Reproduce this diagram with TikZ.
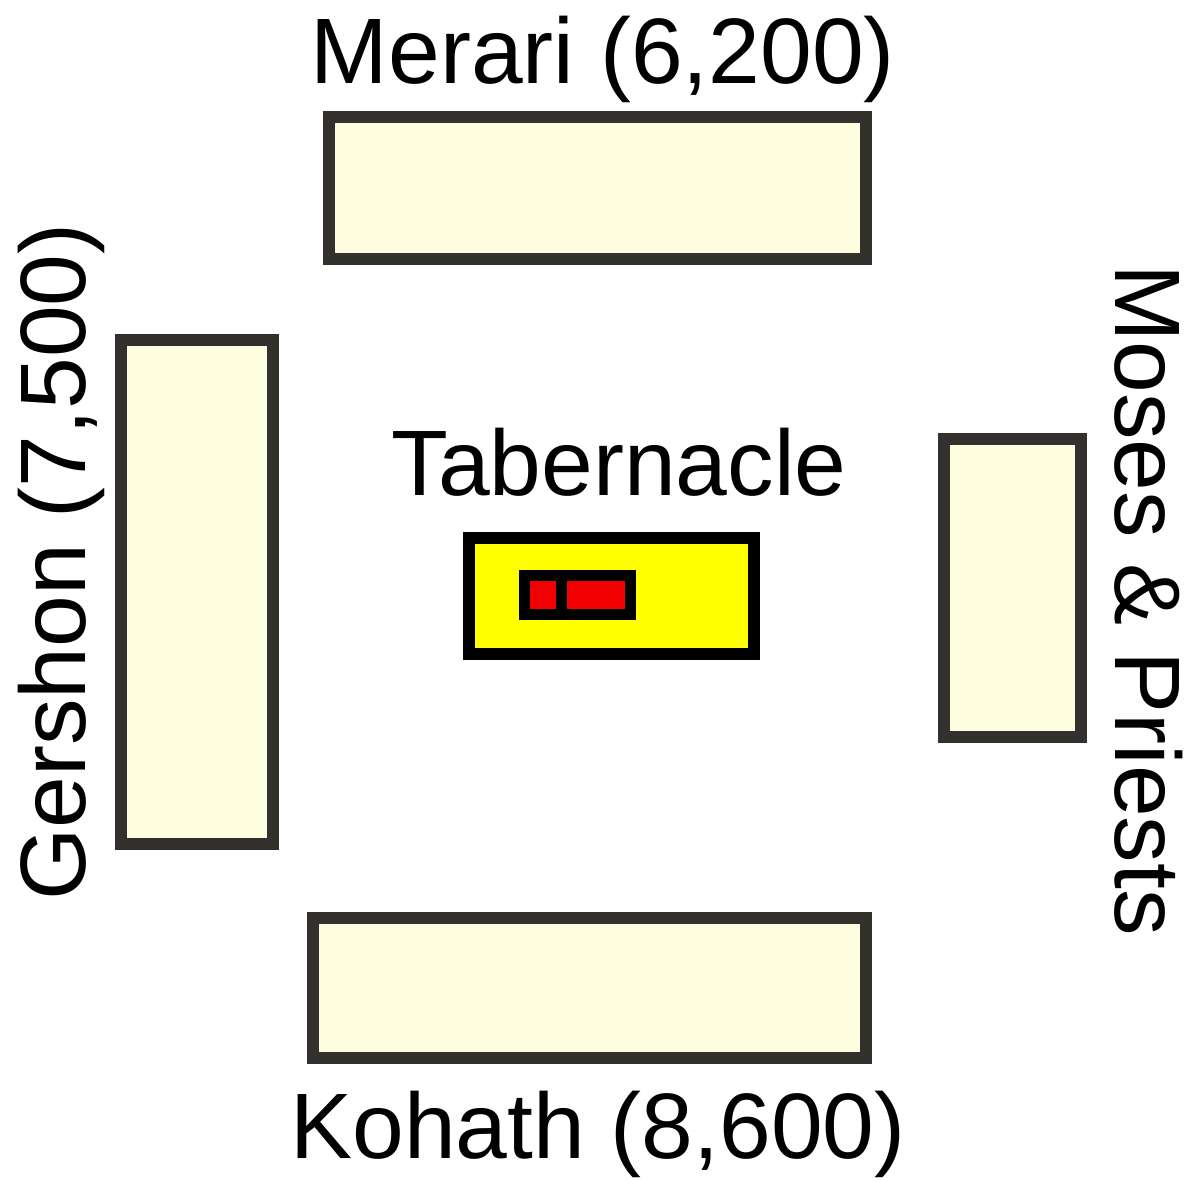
\documentclass[tikz,border=0pt]{standalone}
\usepackage{fontspec}
\setmainfont{Liberation Sans}
\definecolor{campfill}{RGB}{255,253,224}
\definecolor{campline}{RGB}{50,49,45}
\definecolor{tabyellow}{RGB}{255,255,0}
\definecolor{holyred}{RGB}{240,0,0}
\tikzset{
 camp/.style={draw=campline, fill=campfill, line width=12pt, inner sep=0pt},
 tabbox/.style={draw=black, fill=tabyellow, line width=12pt, inner sep=0pt},
 holy/.style={draw=black, fill=holyred, line width=11pt, inner sep=0pt, minimum height=39pt},
 tribe/.style={font=\fontsize{93}{100}\selectfont, inner sep=0pt, anchor=base}
}
\begin{document}
\begin{tikzpicture}[x=1pt,y=-1pt]
 \useasboundingbox (0,0) rectangle (1192,1181);
 % camps
 \node[camp, minimum width=537pt, minimum height=142pt] (mer) at (597.5,188) {};
 \node[camp, minimum width=152pt, minimum height=504pt] (ger) at (197,591.5) {};
 \node[camp, minimum width=137pt, minimum height=298pt] (mos) at (1012.5,588) {};
 \node[camp, minimum width=553pt, minimum height=140pt] (koh) at (589.5,988) {};
 %
 \node[tabbox, minimum width=285pt, minimum height=116pt] (tab) at (611.5,596) {};
 \node[holy, minimum width=37pt] (h1) at (542.5,594.5) {};
 \node[holy, minimum width=69.5pt] (h2) at (595.75,594.5) {};
 % names
 \node[tribe] (mertxt) at (603,83) {Merari (6,200)};
 \node[tribe] (kohtxt) at (598,1158) {Kohath (8,600)};
 \node[tribe] (tabtxt) at (619,495) {Tabernacle};
 \node[tribe, rotate=90] (gertxt) at (85,562) {Gershon (7,500)};
 \node[tribe, rotate=-90] (mostxt) at (1115,600) {Moses \& Priests};
\end{tikzpicture}
\end{document}
